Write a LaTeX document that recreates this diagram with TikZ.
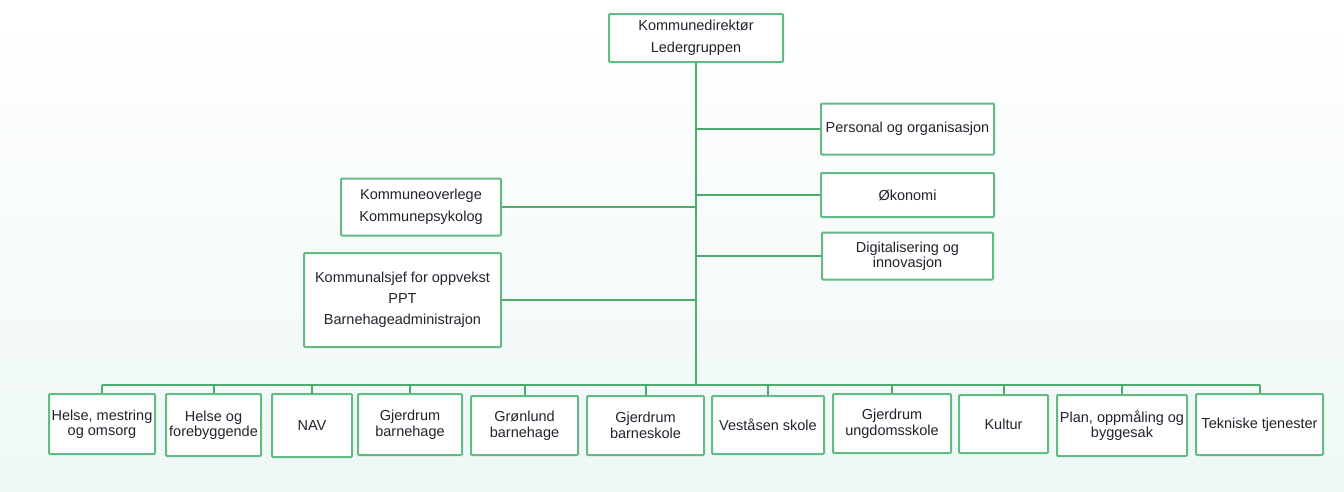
\documentclass[tikz,border=0pt]{standalone}
\usepackage{fontspec}
\setmainfont{Liberation Sans}
\definecolor{boxgreen}{HTML}{62BB82}
\definecolor{linegreen}{HTML}{4FAA6E}
\definecolor{bgmint}{HTML}{EEF8F6}
\definecolor{txt}{HTML}{23232E}
\begin{document}
\begin{tikzpicture}[x=1pt,y=-1pt,
  box/.style={draw=boxgreen, line width=2pt, fill=white, rounded corners=1pt,
    align=center, inner sep=1pt, text=txt},
  big/.style={box, font=\fontsize{14.5}{22}\selectfont},
  small/.style={box, font=\fontsize{14.5}{15.5}\selectfont},
  conn/.style={draw=linegreen, line width=2pt}]
\useasboundingbox (0,0) rectangle (1344,491);
\shade[top color=white, bottom color=bgmint, middle color=white!50!bgmint] (0,0) rectangle (1344,491);
% top
\node[big, minimum width=174pt, minimum height=48pt] (top) at (696,38) {Kommunedirektør\\Ledergruppen};
% right staff
\node[big, minimum width=173pt, minimum height=51pt] (per) at (907.5,129) {Personal og organisasjon};
\node[big, minimum width=173pt, minimum height=44pt] (oko) at (907.5,195) {Økonomi};
\node[small, minimum width=171pt, minimum height=47pt] (dig) at (907.5,256) {Digitalisering og\\innovasjon};
% left staff
\node[big, minimum width=160pt, minimum height=57pt] (ovl) at (421,207) {Kommuneoverlege\\Kommunepsykolog};
\node[big, font=\fontsize{14.5}{21}\selectfont, minimum width=197pt, minimum height=94pt] (ksj) at (402.5,300) {Kommunalsjef for oppvekst\\PPT\\Barnehageadministrajon};
% bottom row
\node[small, minimum width=106pt, minimum height=60pt] (b1) at (102,424) {Helse, mestring\\og omsorg};
\node[small, minimum width=95pt, minimum height=62pt] (b2) at (213.5,425) {Helse og\\forebyggende};
\node[small, minimum width=80pt, minimum height=63pt] (b3) at (312,425.5) {NAV};
\node[small, minimum width=104pt, minimum height=61pt] (b4) at (410,424.5) {Gjerdrum\\barnehage};
\node[small, minimum width=107pt, minimum height=59pt] (b5) at (524.5,425.5) {Grønlund\\barnehage};
\node[small, minimum width=117pt, minimum height=59pt] (b6) at (645.5,425.5) {Gjerdrum\\barneskole};
\node[small, minimum width=112pt, minimum height=58pt] (b7) at (768,425) {Veståsen skole};
\node[small, minimum width=118pt, minimum height=59pt] (b8) at (892,423.5) {Gjerdrum\\ungdomsskole};
\node[small, minimum width=89pt, minimum height=58pt] (b9) at (1003.5,424) {Kultur};
\node[small, minimum width=130pt, minimum height=61pt] (b10) at (1122,425.5) {Plan, oppmåling og\\byggesak};
\node[small, minimum width=127pt, minimum height=61pt] (b11) at (1259.5,424.5) {Tekniske tjenester};
% trunk and bus
\coordinate (busmid) at (696,385);
\coordinate (busL) at (b1.north |- busmid);
\coordinate (busR) at (b11.north |- busmid);
\draw[conn] (top.south) -- (busmid);
\draw[conn] (busL) -- (busR);
% staff branches
\foreach \n in {per,oko,dig}{\draw[conn] (\n.west) -- (\n.west -| busmid);}
\foreach \n in {ovl,ksj}{\draw[conn] (\n.east) -- (\n.east -| busmid);}
% drops
\foreach \n in {b1,b2,b3,b4,b5,b6,b7,b8,b9,b10,b11}{\draw[conn] (\n.north |- busmid) -- (\n.north);}
\end{tikzpicture}
\end{document}
